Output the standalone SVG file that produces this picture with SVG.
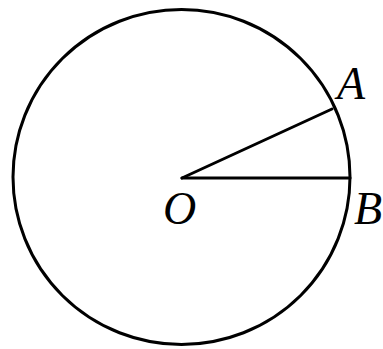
<svg xmlns="http://www.w3.org/2000/svg" width="383" height="349" viewBox="0 0 383 349">
<style>
.ln{fill:none;stroke:#000;stroke-width:3;stroke-linecap:round}
.lb{font-family:'Liberation Serif','Times New Roman',serif;font-style:italic;font-size:46px;fill:#000}
</style>
<rect width="383" height="349" fill="#fff"/>
<g id="circle"><ellipse class="ln" cx="181.5" cy="177" rx="168.5" ry="167.5"/></g>
<g id="connectors">
<line class="ln" x1="182" y1="178" x2="332" y2="109"/>
<line class="ln" x1="182" y1="178" x2="350" y2="178"/>
</g>
<g id="A"><text class="lb" x="337" y="99">A</text></g>
<g id="O"><text class="lb" x="163" y="224">O</text></g>
<g id="B"><text class="lb" x="354" y="224">B</text></g>
</svg>
